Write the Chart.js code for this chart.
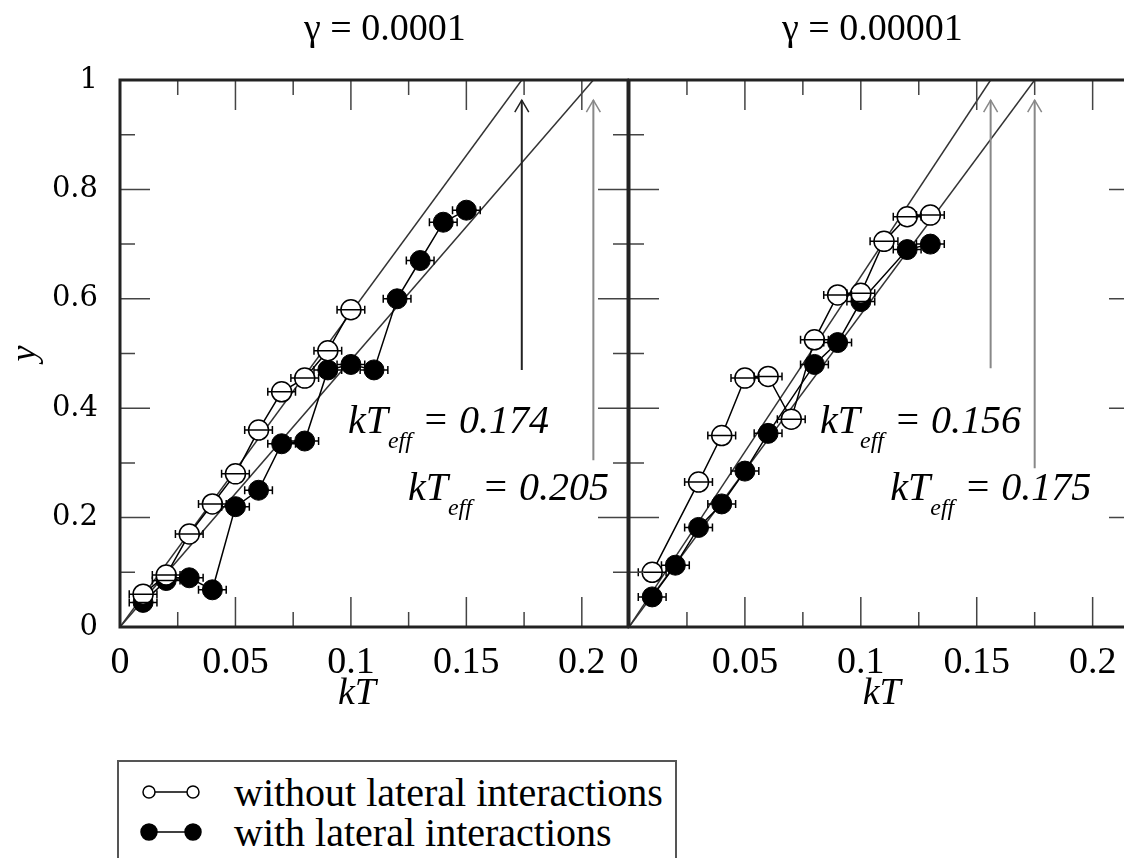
<!DOCTYPE html>
<html>
<head>
<meta charset="utf-8">
<script src="https://cdn.jsdelivr.net/npm/chart.js@4.4.1/dist/chart.umd.min.js"></script>
<style>
  html, body { margin: 0; padding: 0; background: #fff; width: 1124px; height: 858px; overflow: hidden; position: relative; }
  #left { position: absolute; left: 0; top: 0; }
  #right { position: absolute; left: 600px; top: 0; }
  #legend { position: absolute; left: 117px; top: 760px; width: 560px; height: 120px; border: 2px solid #555; box-sizing: border-box; }
  #legend .row { position: absolute; left: 0; height: 40px; display: flex; align-items: center; }
  #legend span { font-family: "Liberation Serif", serif; font-size: 40px; color: #000; white-space: nowrap; }
</style>
</head>
<body>
<canvas id="left" width="629" height="720"></canvas>
<canvas id="right" width="540" height="720"></canvas>
<div id="legend"></div>
<script>
// series names
var seriesNames = ["without lateral interactions", "with lateral interactions"];

// gamma = 0.0001 panel
var leftWithoutKT = [0.01, 0.02, 0.03, 0.04, 0.05, 0.06, 0.07, 0.08, 0.09, 0.10];
var leftWithoutY  = [0.06, 0.095, 0.17, 0.225, 0.28, 0.36, 0.43, 0.455, 0.505, 0.58];
var leftWithKT = [0.01, 0.02, 0.03, 0.04, 0.05, 0.06, 0.07, 0.08, 0.09, 0.10, 0.11, 0.12, 0.13, 0.14, 0.15];
var leftWithY  = [0.045, 0.085, 0.09, 0.068, 0.22, 0.25, 0.335, 0.34, 0.47, 0.48, 0.47, 0.60, 0.67, 0.74, 0.762];
var leftKTeff = [0.174, 0.205];
var leftArrowFrom = [0.47, 0.305];

// gamma = 0.00001 panel
var rightWithoutKT = [0.01, 0.03, 0.04, 0.05, 0.06, 0.07, 0.08, 0.09, 0.10, 0.11, 0.12, 0.13];
var rightWithoutY  = [0.10, 0.265, 0.35, 0.455, 0.458, 0.38, 0.525, 0.607, 0.61, 0.705, 0.75, 0.753];
var rightWithKT = [0.01, 0.02, 0.03, 0.04, 0.05, 0.06, 0.08, 0.09, 0.10, 0.12, 0.13];
var rightWithY  = [0.055, 0.113, 0.182, 0.225, 0.285, 0.354, 0.48, 0.52, 0.595, 0.69, 0.70];
var rightKTeff = [0.156, 0.175];
var rightArrowFrom = [0.473, 0.29];

var arrowTip = 0.963;
var kTErr = 0.006;

function pts(xs, ys) {
  return xs.map(function (x, i) { return { x: x, y: ys[i] }; });
}

function fmt(v) {
  return String(+Number(v).toFixed(3));
}

// frame, inward ticks, error bars, arrow heads and text labels
var decor = {
  id: "decor",
  afterDatasetsDraw: function (chart) {
    var ctx = chart.ctx, xs = chart.scales.x, ys = chart.scales.y;
    ctx.save();
    chart.data.datasets.forEach(function (ds, i) {
      var meta = chart.getDatasetMeta(i);
      if (ds.errbar) {
        ctx.strokeStyle = "#000";
        ctx.lineWidth = 1.5;
        ds.data.forEach(function (p) {
          var x1 = xs.getPixelForValue(p.x - kTErr), x2 = xs.getPixelForValue(p.x + kTErr);
          var y = ys.getPixelForValue(p.y);
          ctx.beginPath();
          ctx.moveTo(x1, y); ctx.lineTo(x2, y);
          ctx.moveTo(x1, y - 4); ctx.lineTo(x1, y + 4);
          ctx.moveTo(x2, y - 4); ctx.lineTo(x2, y + 4);
          ctx.stroke();
        });
      }
      if (ds.arrow) {
        var tip = meta.data[meta.data.length - 1];
        ctx.strokeStyle = ds.borderColor;
        ctx.lineWidth = 1.5;
        ctx.beginPath();
        ctx.moveTo(tip.x - 7, tip.y + 12);
        ctx.lineTo(tip.x, tip.y);
        ctx.lineTo(tip.x + 7, tip.y + 12);
        ctx.stroke();
      }
    });
    ctx.restore();
  },
  afterDraw: function (chart, args, o) {
    var ctx = chart.ctx, a = chart.chartArea, xs = chart.scales.x, ys = chart.scales.y;
    ctx.save();
    // ticks
    ctx.strokeStyle = "#444";
    ctx.lineWidth = 1.5;
    ctx.beginPath();
    xs.ticks.forEach(function (t) {
      [[t.value, 30], [t.value + 0.025, 15]].forEach(function (m) {
        if (m[0] > xs.max) return;
        var x = xs.getPixelForValue(m[0]);
        ctx.moveTo(x, a.bottom); ctx.lineTo(x, a.bottom - m[1]);
        ctx.moveTo(x, a.top); ctx.lineTo(x, a.top + m[1]);
      });
    });
    ys.ticks.forEach(function (t) {
      [[t.value, 30], [t.value + 0.1, 15]].forEach(function (m) {
        if (m[0] > ys.max) return;
        var y = ys.getPixelForValue(m[0]);
        ctx.moveTo(a.left, y); ctx.lineTo(a.left + m[1], y);
        ctx.moveTo(a.right, y); ctx.lineTo(a.right - m[1], y);
      });
    });
    ctx.stroke();
    // frame
    ctx.strokeStyle = "#222";
    ctx.lineWidth = 3;
    ctx.strokeRect(a.left, a.top, a.right - a.left, a.bottom - a.top);

    ctx.fillStyle = "#000";
    ctx.textBaseline = "middle";
    ctx.textAlign = "center";
    ctx.font = "38px 'Liberation Serif'";
    ctx.fillText(o.title, xs.getPixelForValue(o.titleAt), 30);
    ctx.font = "italic 38px 'Liberation Serif'";
    ctx.fillText("kT", xs.getPixelForValue(o.xTitleAt), 694);

    // kT_eff labels
    ctx.textBaseline = "alphabetic";
    ctx.textAlign = "left";
    o.notes.forEach(function (n) {
      var x = xs.getPixelForValue(n.x), y = ys.getPixelForValue(n.y);
      ctx.font = "italic 40px 'Liberation Serif'";
      ctx.fillText("kT", x, y);
      x += ctx.measureText("kT").width;
      ctx.font = "italic 24px 'Liberation Serif'";
      ctx.fillText("eff", x, y + 15);
      x += ctx.measureText("eff").width;
      ctx.font = "italic 40px 'Liberation Serif'";
      ctx.fillText(" = " + n.text, x, y);
    });
    ctx.restore();
  }
};

function panel(id, p) {
  return new Chart(document.getElementById(id), {
    type: "line",
    data: {
      datasets: [
        { data: pts([0, p.kTeff[0]], [0, 1]), borderColor: "#333", borderWidth: 1.5, pointRadius: 0, order: 5 },
        { data: pts([0, p.kTeff[1]], [0, 1]), borderColor: "#333", borderWidth: 1.5, pointRadius: 0, order: 5 },
        { data: pts([p.kTeff[0], p.kTeff[0]], [p.arrowFrom[0], arrowTip]), borderColor: p.arrowColors[0], borderWidth: 2, pointRadius: 0, arrow: true, order: 4 },
        { data: pts([p.kTeff[1], p.kTeff[1]], [p.arrowFrom[1], arrowTip]), borderColor: p.arrowColors[1], borderWidth: 2, pointRadius: 0, arrow: true, order: 4 },
        { label: seriesNames[1], data: pts(p.withKT, p.withY), borderColor: "#000", borderWidth: 1.5,
          pointRadius: 10, pointBackgroundColor: "#000", pointBorderColor: "#000", pointBorderWidth: 1, errbar: true, order: 2 },
        { label: seriesNames[0], data: pts(p.withoutKT, p.withoutY), borderColor: "#000", borderWidth: 1.5,
          pointRadius: 10, pointBackgroundColor: "#fff", pointBorderColor: "#000", pointBorderWidth: 1.5, errbar: true, order: 1 }
      ]
    },
    options: {
      responsive: false,
      animation: false,
      layout: { autoPadding: false, padding: { top: 80, right: 1, left: 0, bottom: 0 } },
      plugins: {
        legend: { display: false },
        tooltip: { enabled: false },
        decor: { title: p.title, titleAt: p.titleAt, xTitleAt: p.xTitleAt, notes: p.notes }
      },
      scales: {
        x: {
          type: "linear", min: 0, max: 0.22,
          grid: { display: false }, border: { display: false },
          ticks: { stepSize: 0.05, includeBounds: false, maxRotation: 0, autoSkip: false, padding: 5, color: "#000",
                   font: { family: "Liberation Serif", size: 38 }, callback: fmt },
          afterFit: function (s) { s.height = 93; s.paddingLeft = 0; s.paddingRight = 0; }
        },
        y: {
          type: "linear", min: 0, max: 1,
          grid: { display: false }, border: { display: false },
          ticks: { display: p.yLabels, stepSize: 0.2, padding: 14, color: "#000",
                   font: { family: "DejaVu Serif", size: 29 }, callback: fmt },
          title: { display: p.yLabels, text: "y", color: "#000", padding: { top: 4, bottom: 0 },
                   font: { family: "Liberation Serif", size: 36, style: "italic" } },
          afterFit: function (s) { s.width = p.yWidth; s.paddingTop = 0; s.paddingBottom = 0; }
        }
      }
    },
    plugins: [decor]
  });
}

panel("left", {
  withoutKT: leftWithoutKT, withoutY: leftWithoutY, withKT: leftWithKT, withY: leftWithY,
  kTeff: leftKTeff, arrowFrom: leftArrowFrom, arrowColors: ["#222", "#888"],
  yLabels: true, yWidth: 120,
  title: "\u03b3 = 0.0001", titleAt: 0.1147, xTitleAt: 0.1026,
  notes: [{ x: 0.0987, y: 0.355, text: "0.174" }, { x: 0.1247, y: 0.232, text: "0.205" }]
});

panel("right", {
  withoutKT: rightWithoutKT, withoutY: rightWithoutY, withKT: rightWithKT, withY: rightWithY,
  kTeff: rightKTeff, arrowFrom: rightArrowFrom, arrowColors: ["#888", "#888"],
  yLabels: false, yWidth: 29,
  title: "\u03b3 = 0.00001", titleAt: 0.105, xTitleAt: 0.109,
  notes: [{ x: 0.0824, y: 0.355, text: "0.156" }, { x: 0.1127, y: 0.232, text: "0.175" }]
});

// legend box
var legend = document.getElementById("legend");
seriesNames.forEach(function (name, i) {
  var fill = i === 0 ? "#fff" : "#000";
  var r = i === 0 ? 6 : 8;
  var row = document.createElement("div");
  row.className = "row";
  row.style.top = (10 + i * 40) + "px";
  row.innerHTML = '<svg width="115" height="40">' +
    '<line x1="30" y1="20" x2="74" y2="20" stroke="#000" stroke-width="1.5"/>' +
    '<circle cx="30" cy="20" r="' + r + '" fill="' + fill + '" stroke="#000" stroke-width="1.5"/>' +
    '<circle cx="74" cy="20" r="' + r + '" fill="' + fill + '" stroke="#000" stroke-width="1.5"/></svg>' +
    '<span>' + name + '</span>';
  legend.appendChild(row);
});
</script>
</body>
</html>
